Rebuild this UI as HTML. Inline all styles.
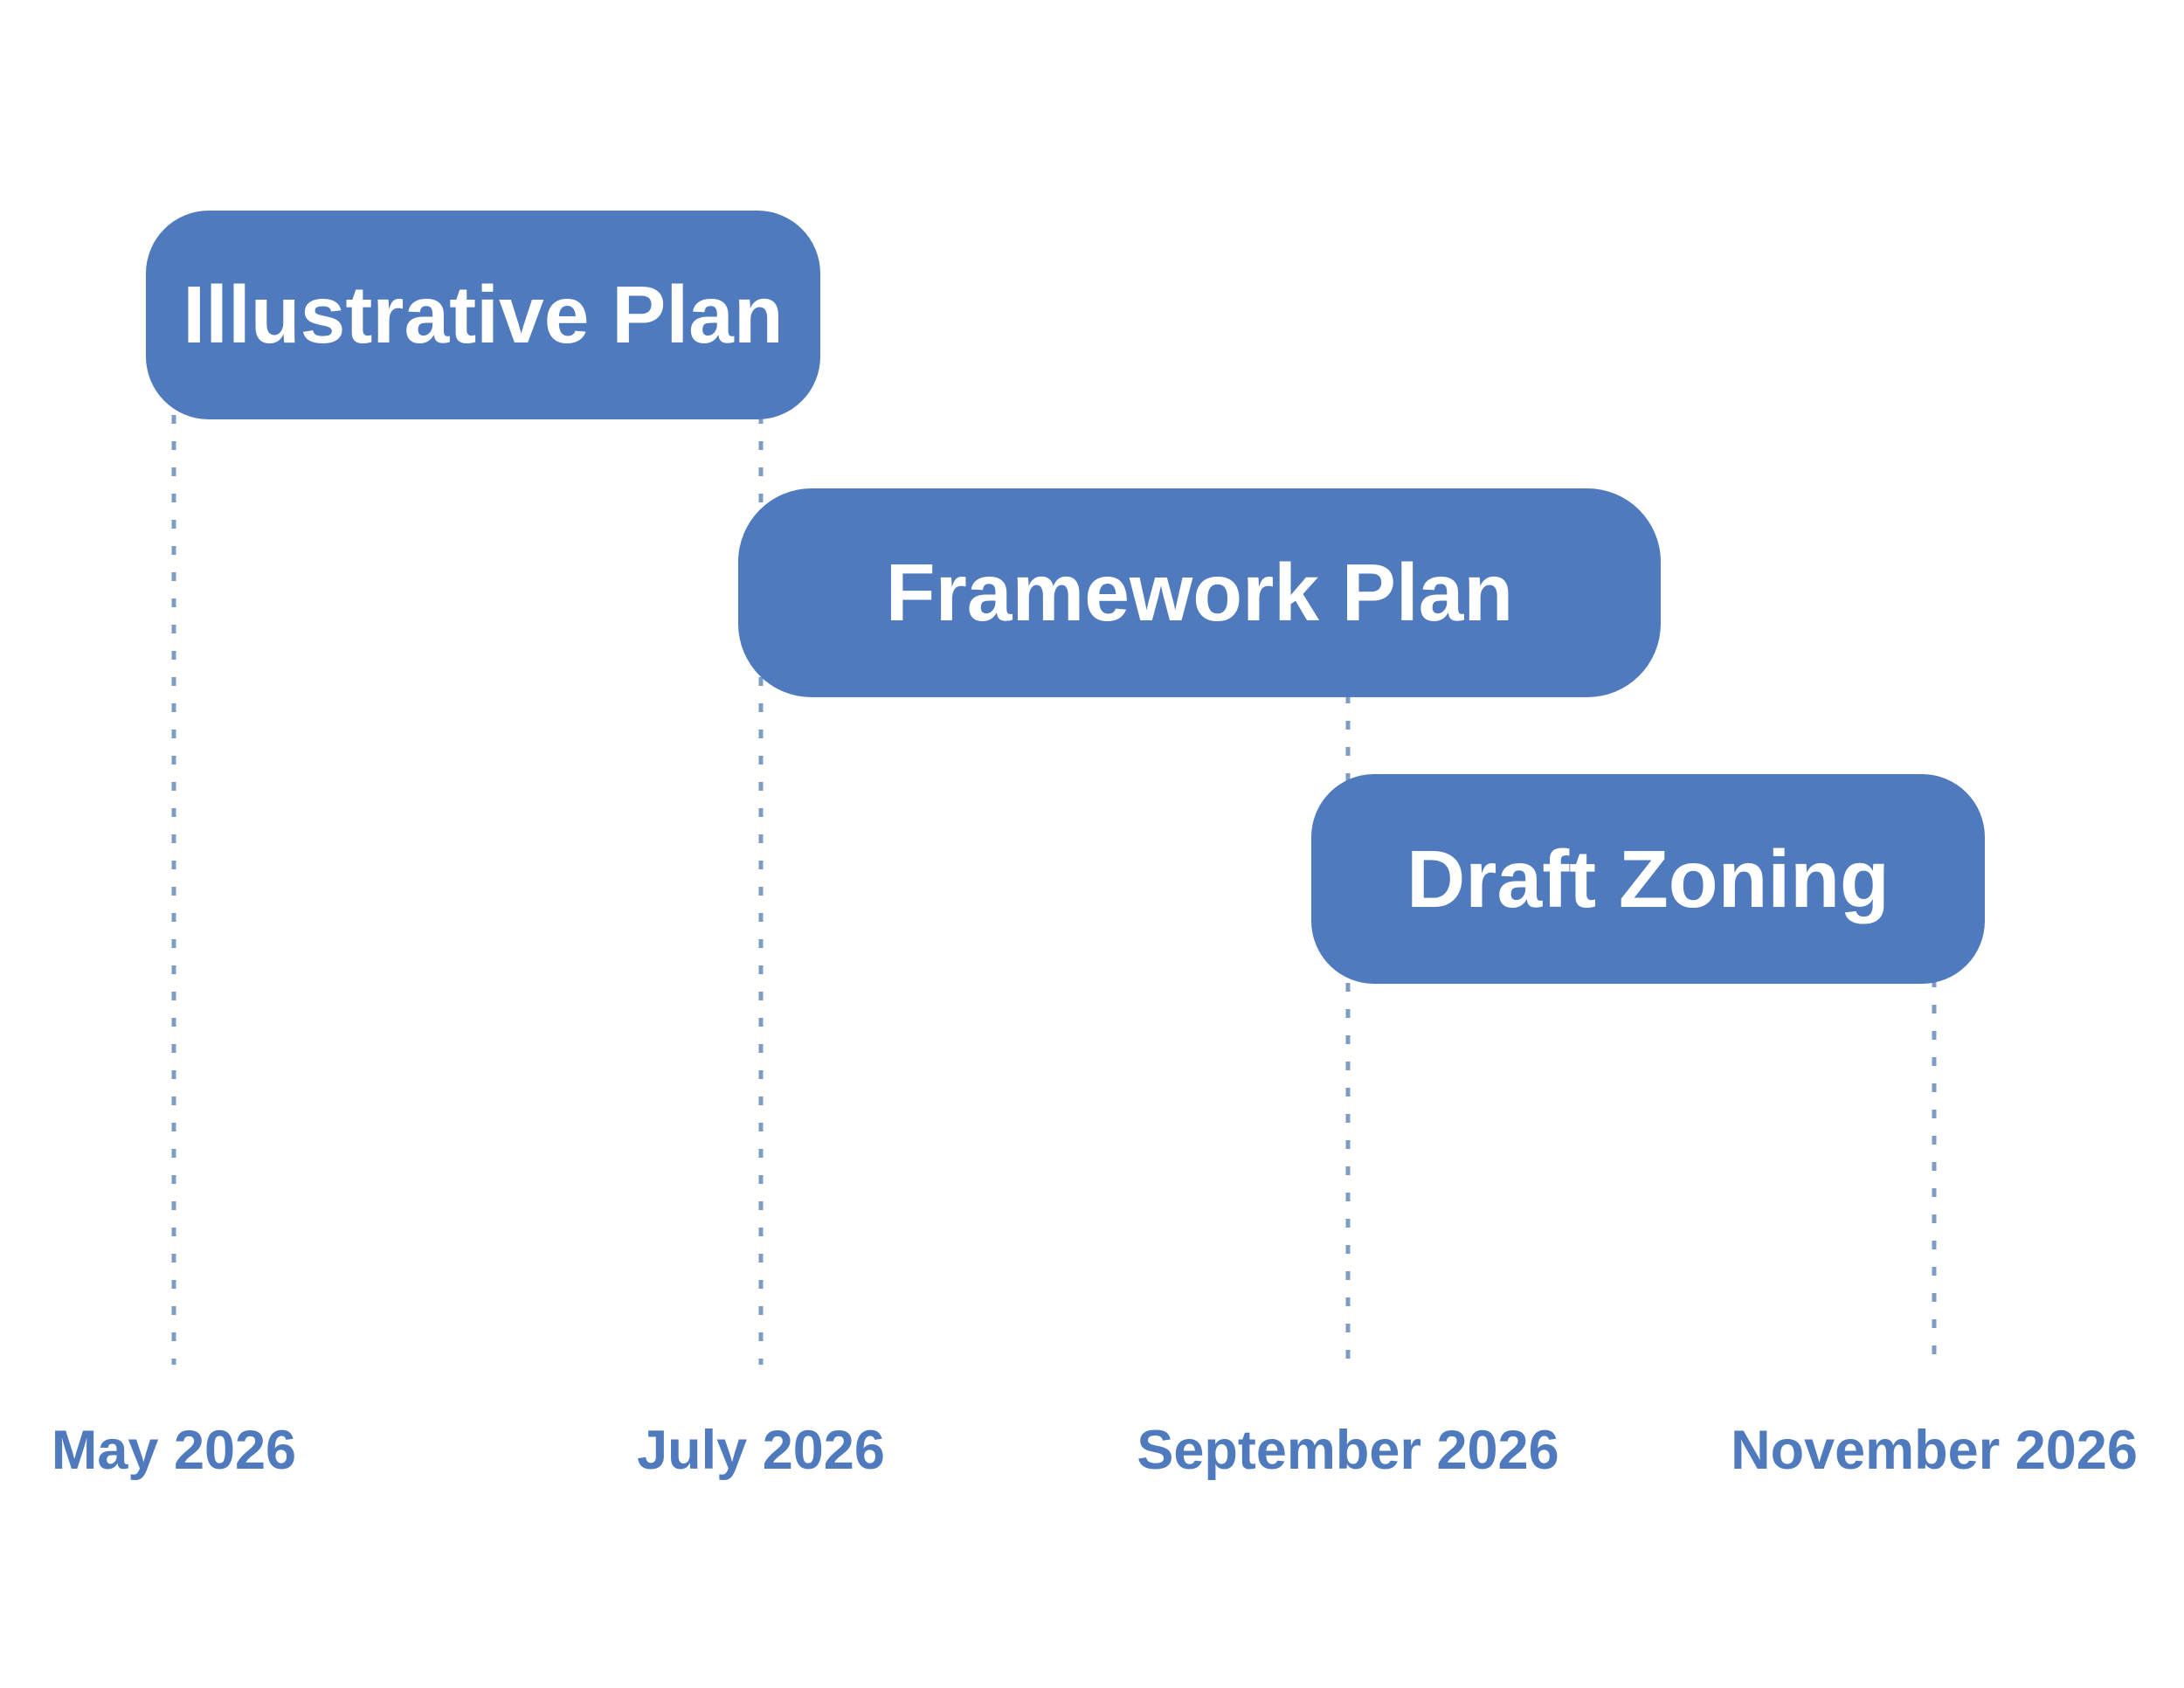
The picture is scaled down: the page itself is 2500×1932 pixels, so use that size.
<!DOCTYPE html>
<html><head><meta charset="utf-8"><style>
html,body{margin:0;padding:0;background:#fff;}
body{width:2500px;height:1932px;position:relative;overflow:hidden;font-family:"Liberation Sans",Arial,sans-serif;}
.box{position:absolute;background:#4f7abd;color:#fff;font-weight:bold;display:flex;align-items:center;justify-content:center;}
.lab{position:absolute;top:1620px;width:600px;margin-left:-300px;text-align:center;color:#4f7abd;font-weight:bold;font-size:63px;line-height:80px;}
</style></head><body>
<svg width="2500" height="1932" style="position:absolute;left:0;top:0">
<g stroke="#7f9cc4" stroke-width="5" stroke-dasharray="10 20">
<line x1="199" y1="475" x2="199" y2="1562"/>
<line x1="871" y1="475" x2="871" y2="1562"/>
<line x1="1543" y1="795" x2="1543" y2="1562"/>
<line x1="2214" y1="1120" x2="2214" y2="1562"/>
</g>
</svg>
<div class="box" style="left:167px;top:241px;width:772px;height:239px;border-radius:72px;font-size:93px;">Illustrative Plan</div>
<div class="box" style="left:845px;top:559px;width:1056px;height:239px;border-radius:84px;font-size:93px;">Framework Plan</div>
<div class="box" style="left:1501px;top:886px;width:771px;height:240px;border-radius:72px;font-size:93px;">Draft Zoning</div>
<div class="lab" style="left:199px">May 2026</div>
<div class="lab" style="left:871px">July 2026</div>
<div class="lab" style="left:1543px">September 2026</div>
<div class="lab" style="left:2214px">November 2026</div>
</body></html>
